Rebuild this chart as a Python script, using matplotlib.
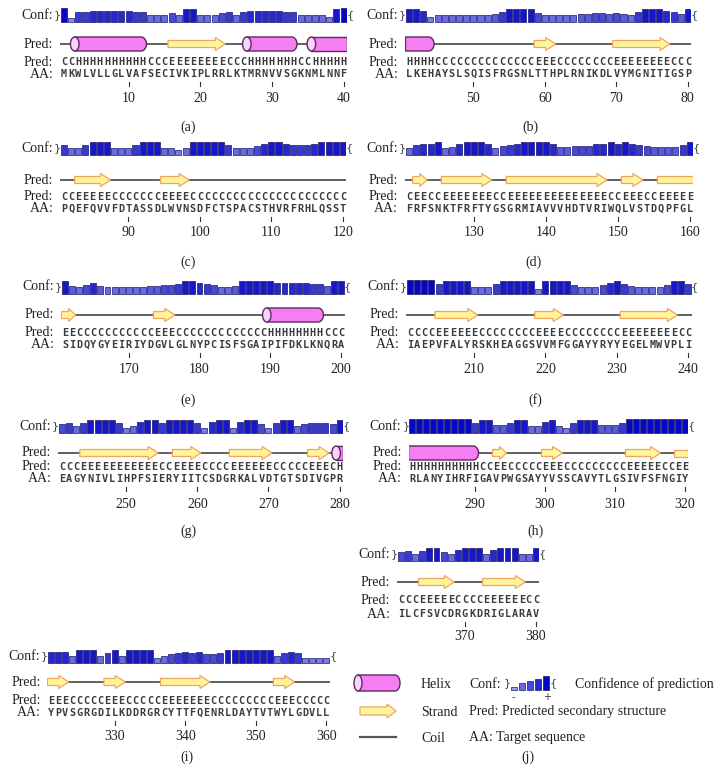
import numpy as np
import matplotlib
matplotlib.use('Agg')
import matplotlib.pyplot as plt
from matplotlib.patches import Polygon, Ellipse
from matplotlib.colors import LinearSegmentedColormap

W, H = 716, 778

# ---- data ----
starts = [1, 41, 81, 121, 161, 201, 241, 281, 321, 361]
captions = ['(a)', '(b)', '(c)', '(d)', '(e)', '(f)', '(g)', '(h)', '(i)', '(j)']

conf_a = [9, 1, 6, 6, 7, 7, 7, 7, 7, 7, 6, 6, 3, 3, 3, 5, 3, 8, 8, 3,
          3, 3, 5, 6, 3, 6, 7, 7, 7, 7, 7, 6, 6, 3, 3, 3, 3, 2, 8, 9]
conf_b = [8, 8, 7, 2, 3, 3, 3, 3, 3, 3, 3, 3, 4, 6, 8, 8, 8, 8, 5, 3,
          3, 3, 3, 3, 4, 4, 5, 5, 4, 5, 4, 3, 6, 8, 8, 8, 7, 6, 4, 8]
conf_c = [6, 3, 3, 6, 8, 8, 8, 3, 3, 3, 6, 8, 8, 8, 3, 3, 2, 3, 8, 8,
          8, 8, 8, 6, 3, 3, 3, 5, 7, 8, 8, 7, 6, 6, 6, 7, 8, 8, 8, 8]
conf_d = [3, 6, 7, 7, 8, 3, 4, 7, 8, 8, 8, 7, 3, 5, 6, 7, 8, 8, 8, 8,
          7, 4, 4, 5, 5, 5, 7, 7, 8, 7, 8, 7, 6, 5, 4, 4, 4, 4, 6, 8]
conf_e = [8, 4, 3, 5, 7, 4, 3, 3, 3, 3, 3, 3, 4, 4, 5, 5, 6, 8, 8, 7,
          6, 5, 3, 3, 4, 8, 8, 8, 8, 8, 7, 7, 7, 7, 7, 6, 6, 4, 8, 8]
conf_f = [9, 9, 9, 9, 6, 8, 8, 8, 8, 3, 3, 3, 6, 8, 8, 8, 8, 8, 2, 8,
          8, 8, 8, 5, 3, 3, 3, 5, 7, 8, 6, 4, 3, 3, 3, 3, 5, 8, 8, 6]
conf_g = [5, 6, 3, 6, 8, 8, 8, 8, 6, 2, 3, 7, 8, 8, 6, 8, 8, 8, 8, 6,
          2, 7, 8, 8, 2, 7, 8, 8, 5, 2, 6, 8, 8, 3, 5, 6, 6, 6, 5, 8]
conf_h = [9, 9, 9, 9, 9, 9, 9, 9, 9, 6, 8, 8, 4, 4, 6, 8, 8, 3, 3, 7,
          8, 3, 2, 6, 8, 8, 8, 4, 4, 4, 6, 9, 9, 9, 9, 9, 9, 9, 9, 9]
conf_i = [7, 7, 7, 3, 8, 8, 8, 3, 6, 8, 3, 8, 8, 8, 8, 2, 3, 5, 6, 7,
          6, 7, 5, 5, 6, 8, 8, 8, 8, 8, 8, 8, 3, 6, 7, 6, 2, 2, 2, 2]
conf_j = [5, 6, 3, 6, 8, 8, 5, 3, 7, 8, 8, 8, 3, 7, 8, 8, 8, 3, 3, 8]

pred_a = "CCHHHHHHHH" "HHCCCEEEEE" "EEECCCHHHH" "HHHCCHHHHH"
pred_b = "HHHHCCCCCC" "CCCCCCCCEE" "ECCCCCCCCE" "EEEEEEECCC"
pred_c = "CCEEEEECCC" "CCCCEEEECC" "CCCCCCCCCC" "CCCCCCCCCC"
pred_d = "CEECCEEEEE" "EECCEEEEEE" "EEEEEEEECC" "EEECCEEEEE"
pred_e = "EECCCCCCCC" "CCCEEECCCC" "CCCCCCCCCH" "HHHHHHHCCC"
pred_f = "CCCCEEEEEE" "CCCCCCCCEE" "EECCCCCCCC" "EEEEEEEECC"
pred_g = "CCCEEEEEEE" "EEEECCEEEE" "CCCCEEEEEE" "CCCCCEEECH"
pred_h = "HHHHHHHHHH" "CCEECCCCCE" "EECCCCCCCC" "CEEEEECCEE"
pred_i = "EEECCCCCEE" "ECCCCCEEEE" "EEECCCCCCC" "CCEEECCCCC"
pred_j = "CCCEEEEECC" "CCEEEEEECC"

aa_a = "MKWLVLLGLV" "AFSECIVKIP" "LRRLKTMRNV" "VSGKNMLNNF"
aa_b = "LKEHAYSLSQ" "ISFRGSNLTT" "HPLRNIKDLV" "YMGNITIGSP"
aa_c = "PQEFQVVFDT" "ASSDLWVNSD" "FCTSPACSTH" "VRFRHLQSST"
aa_d = "FRFSNKTFRF" "TYGSGRMIAV" "VVHDTVRIWQ" "LVSTDQPFGL"
aa_e = "SIDQYGYEIR" "IYDGVLGLNY" "PCISFSGAIP" "IFDKLKNQRA"
aa_f = "IAEPVFALYR" "SKHEAGGSVV" "MFGGAYYRYY" "EGELMWVPLI"
aa_g = "EAGYNIVLIH" "PFSIERYIIT" "CSDGRKALVD" "TGTSDIVGPR"
aa_h = "RLANYIHRFI" "GAVPWGSAYY" "VSSCAVYTLG" "SIVFSFNGIY"
aa_i = "YPVSGRGDIL" "KDDRGRCYTT" "FQENRLDAYT" "VTWYLGDVLL"
aa_j = "ILCFSVCDRG" "KDRIGLARAV"

legend_conf = [0, 3, 5, 7, 9]

# ---- layout (pixels) ----
# rows: conf, cartoon, pred text, aa text, tick label
row_ab = (15, 44, 62, 74, 98)
row_cd = (148, 180, 197, 209, 233)
row_ef = (287, 315, 333, 345, 370)
row_gh = (426, 453, 467, 479, 504)
row_j = (554, 582, 600, 614, 636)
row_i = (656, 682, 701, 713, 737)

panels = [
    (conf_a, pred_a, aa_a, 64, 7.17, row_ab, (188, 127)),
    (conf_b, pred_b, aa_b, 409, 7.15, row_ab, (530, 127)),
    (conf_c, pred_c, aa_c, 64, 7.15, row_cd, (188, 262)),
    (conf_d, pred_d, aa_d, 409, 7.2, row_cd, (533, 262)),
    (conf_e, pred_e, aa_e, 65, 7.08, row_ef, (188, 400)),
    (conf_f, pred_f, aa_f, 410, 7.13, row_ef, (535, 400)),
    (conf_g, pred_g, aa_g, 62, 7.12, row_gh, (188, 531)),
    (conf_h, pred_h, aa_h, 412, 7.0, row_gh, (535, 531)),
    (conf_i, pred_i, aa_i, 51, 7.06, row_i, (187, 757)),
    (conf_j, pred_j, aa_j, 401, 7.1, row_j, (528, 757)),
]

SERIF = 'Liberation Serif'
MONO = 'DejaVu Sans Mono'
HELIX_FC, HELIX_EC = '#f47ef2', '#5c2a5e'
STRAND_FC, STRAND_EC = '#fff59e', '#f2a45c'
COIL_C = '#555555'
TXT_C = '#3c3c3c'
cmap = LinearSegmentedColormap.from_list('conf', ['#9d9df0', '#0606c4'])


def helix(ax, x1, x2, y, hh, r, left_cap=True, right_cap=True):
    t = np.linspace(-np.pi / 2, np.pi / 2, 24)
    if right_cap:
        xs = np.r_[x1, x2 - r + r * np.cos(t), x1]
        ys = np.r_[y - hh, y + hh * np.sin(t), y + hh]
    else:
        xs = [x1, x2, x2, x1]
        ys = [y - hh, y - hh, y + hh, y + hh]
    ax.add_patch(Polygon(np.c_[xs, ys], closed=True, fc=HELIX_FC, ec=HELIX_EC,
                         lw=1.0, zorder=3))
    if left_cap:
        ax.add_patch(Ellipse((x1, y), 2 * r * 0.8, 2 * hh, fc='#fbd3fa',
                             ec=HELIX_EC, lw=1.0, zorder=4))


def strand(ax, x1, x2, y, bh, ah, hl, head=True):
    if head:
        pts = [(x1, y - bh), (x2 - hl, y - bh), (x2 - hl, y - ah), (x2, y),
               (x2 - hl, y + ah), (x2 - hl, y + bh), (x1, y + bh)]
    else:
        pts = [(x1, y - bh), (x2, y - bh), (x2, y + bh), (x1, y + bh)]
    ax.add_patch(Polygon(pts, closed=True, fc=STRAND_FC, ec=STRAND_EC, lw=0.9,
                         zorder=3))


fig = plt.figure(figsize=(W / 100, H / 100), dpi=100)
bg = fig.add_axes([0, 0, 1, 1])
bg.set_xlim(0, W)
bg.set_ylim(H, 0)
bg.axis('off')


def panel(start, conf, pred, aa, x0, dx, rows):
    cy, ty, py, ay, ly = rows
    n = len(aa)
    res = np.arange(start, start + n)
    left = x0 - dx / 2
    right = x0 + (n - 0.5) * dx
    top, bot = cy - 12, ly + 10
    ax = fig.add_axes([left / W, 1 - bot / H, (right - left) / W, (bot - top) / H])
    ax.set_xlim(start - 0.5, start + n - 0.5)
    ax.set_ylim(bot, top)
    ax.axis('off')

    # confidence bars
    c = np.array(conf)
    h = 3.0 + 1.2 * c
    base = cy + 7
    ax.bar(res, h, bottom=base - h, width=0.84, color=cmap(c / 9),
           edgecolor='#16166a', linewidth=0.5)
    ax.text(start - 0.9, cy, '}', ha='center', va='center', fontsize=8,
            color='#444444', clip_on=False)
    ax.text(start + n - 0.1, cy, '{', ha='center', va='center', fontsize=8,
            color='#444444', clip_on=False)

    # cartoon
    ax.plot([start - 0.5, start + n - 0.5], [ty, ty], color=COIL_C, lw=1.3,
            solid_capstyle='butt', zorder=2)
    i = 0
    while i < n:
        j = i
        while j + 1 < n and pred[j + 1] == pred[i]:
            j += 1
        x1, x2 = start + i - 0.5, start + j + 0.5
        if pred[i] == 'H':
            helix(ax, x1, x2, ty, 7, 0.75, left_cap=i > 0, right_cap=j < n - 1)
        elif pred[i] == 'E':
            strand(ax, x1, x2, ty, 3.5, 6.5, min(1.4, (x2 - x1) * 0.5),
                   head=j < n - 1)
        i = j + 1

    # sequence rows
    for k, (p, a) in enumerate(zip(pred, aa)):
        ax.text(start + k, py, p, ha='center', va='center', fontsize=7.4,
                family=MONO, weight='bold', color=TXT_C)
        ax.text(start + k, ay, a, ha='center', va='center', fontsize=7.4,
                family=MONO, weight='bold', color=TXT_C)

    for r in res[res % 10 == 0]:
        ax.plot([r, r], [ay + 8, ay + 12], color='#333333', lw=0.8)
        ax.text(r, ly, str(r), ha='center', va='center', fontsize=10,
                family=SERIF, color='#222222')

    lx = start - 1.5
    for y, s in [(cy, 'Conf:'), (ty, 'Pred:'), (py, 'Pred:'), (ay, 'AA:')]:
        ax.text(lx, y, s, ha='right', va='center', fontsize=10, family=SERIF,
                color='#222222')


for start, (conf, pred, aa, x0, dx, rows, cap), lab in zip(starts, panels, captions):
    panel(start, conf, pred, aa, x0, dx, rows)
    bg.text(cap[0], cap[1], lab, ha='center', va='center', fontsize=10,
            family=SERIF, color='#222222')

# ---- legend ----
helix(bg, 358, 400, 683, 8, 5)
strand(bg, 360, 396, 711, 4, 7, 9)
bg.plot([360, 396], [737, 737], color=COIL_C, lw=1.6)

lc = np.array(legend_conf)
lh = 3.0 + 1.2 * lc
lx = 514 + 8 * np.arange(len(lc))
bg.bar(lx, lh, bottom=690 - lh, width=6, color=cmap(lc / 9),
       edgecolor='#16166a', linewidth=0.5)
bg.text(507, 683, '}', ha='center', va='center', fontsize=8, color='#444444')
bg.text(553, 683, '{', ha='center', va='center', fontsize=8, color='#444444')
bg.text(513, 697, '-', ha='center', va='center', fontsize=7, color='#333333')
bg.text(547, 697, '+', ha='center', va='center', fontsize=7, color='#333333')

legend_txt = [(421, 684, 'Helix'), (469, 684, 'Conf:'),
              (575, 684, 'Confidence of prediction'),
              (421, 712, 'Strand'), (469, 712, 'Pred: Predicted secondary structure'),
              (421, 738, 'Coil'), (469, 738, 'AA: Target sequence')]
for x, y, s in legend_txt:
    bg.text(x, y, s, ha='left', va='center', fontsize=10, family=SERIF,
            color='#222222')

fig.savefig('out.png', dpi=100)
